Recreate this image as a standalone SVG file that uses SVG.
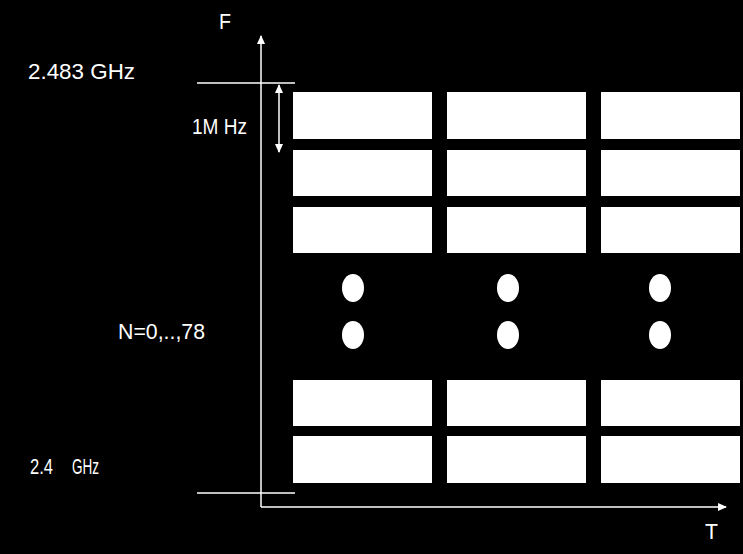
<svg xmlns="http://www.w3.org/2000/svg" width="743" height="554" viewBox="0 0 743 554">
<style>
.t{font-family:"Liberation Sans",Arial,sans-serif;font-size:22px;fill:#fff}
.l{stroke:#fff;stroke-width:1.5;fill:none}
.b{fill:#fff}
</style>
<defs>
<marker id="a" markerWidth="10" markerHeight="10" refX="8" refY="5" orient="auto-start-reverse" markerUnits="userSpaceOnUse"><path d="M0,1 L9,5 L0,9 Z" fill="#fff"/></marker>
</defs>
<rect width="743" height="554" fill="#000"/>
<g id="connectors">
<line class="l" x1="261" y1="507" x2="261" y2="36" marker-end="url(#a)"/>
<line class="l" x1="261" y1="507" x2="726" y2="507" marker-end="url(#a)"/>
<line class="l" x1="197" y1="83" x2="295" y2="83"/>
<line class="l" x1="197" y1="493" x2="295" y2="493"/>
<line class="l" x1="279" y1="85" x2="279" y2="152" marker-start="url(#a)" marker-end="url(#a)"/>
</g>
<g id="labels">
<text class="t" x="219" y="29" textLength="12" lengthAdjust="spacingAndGlyphs">F</text>
<text class="t" x="705" y="539" textLength="13" lengthAdjust="spacingAndGlyphs">T</text>
<text class="t" x="28" y="79" textLength="107" lengthAdjust="spacingAndGlyphs">2.483 GHz</text>
<text class="t" x="192" y="134" textLength="55" lengthAdjust="spacingAndGlyphs">1M Hz</text>
<text class="t" x="118" y="339" textLength="87" lengthAdjust="spacingAndGlyphs">N=0,..,78</text>
<text class="t" x="30" y="474" textLength="23" lengthAdjust="spacingAndGlyphs">2.4</text>
<text class="t" x="72" y="474" textLength="27" lengthAdjust="spacingAndGlyphs">GHz</text>
</g>
<g id="slots">
<rect class="b" x="293" y="92" width="139" height="47"/><rect class="b" x="447" y="92" width="139" height="47"/><rect class="b" x="601" y="92" width="139" height="47"/>
<rect class="b" x="293" y="150" width="139" height="46"/><rect class="b" x="447" y="150" width="139" height="46"/><rect class="b" x="601" y="150" width="139" height="46"/>
<rect class="b" x="293" y="207" width="139" height="46"/><rect class="b" x="447" y="207" width="139" height="46"/><rect class="b" x="601" y="207" width="139" height="46"/>
<rect class="b" x="293" y="380" width="139" height="46"/><rect class="b" x="447" y="380" width="139" height="46"/><rect class="b" x="601" y="380" width="139" height="46"/>
<rect class="b" x="293" y="436" width="139" height="47"/><rect class="b" x="447" y="436" width="139" height="47"/><rect class="b" x="601" y="436" width="139" height="47"/>
</g>
<g id="dots">
<ellipse class="b" cx="353" cy="288" rx="11" ry="14"/><ellipse class="b" cx="508" cy="288" rx="11" ry="14"/><ellipse class="b" cx="660" cy="288" rx="11" ry="14"/>
<ellipse class="b" cx="353" cy="335" rx="11" ry="14"/><ellipse class="b" cx="508" cy="335" rx="11" ry="14"/><ellipse class="b" cx="660" cy="335" rx="11" ry="14"/>
</g>
</svg>
